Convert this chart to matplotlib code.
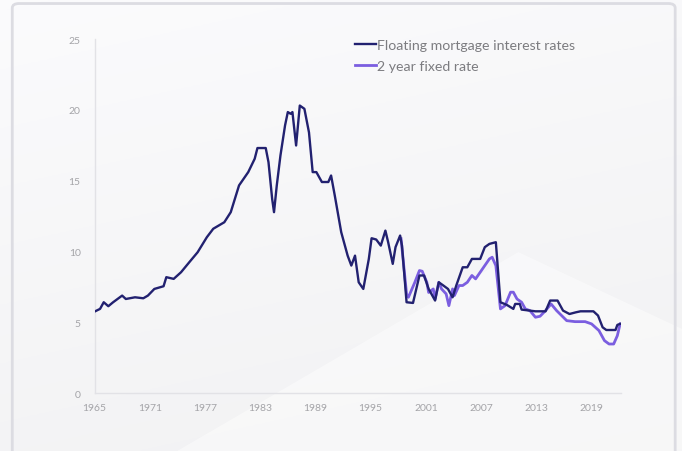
import numpy as np
import matplotlib
matplotlib.use("Agg")
from matplotlib import pyplot as plt
from matplotlib.patches import Polygon, FancyBboxPatch

plt.rcParams['font.family'] = ['Lato', 'DejaVu Sans']

# floating mortgage rate, (decimal year, percent)
float_years = [1965.0, 1965.6, 1966.0, 1966.5, 1967.0, 1968.0, 1968.4, 1969.4, 1970.3, 1970.8,
               1971.5, 1972.5, 1972.8, 1973.6, 1974.4, 1975.3, 1976.2, 1977.2, 1977.9, 1979.1,
               1979.8, 1980.7, 1981.7, 1982.4, 1982.7, 1983.6, 1983.9, 1984.3, 1984.5, 1984.8,
               1985.2, 1985.7, 1986.0, 1986.3, 1986.5, 1986.9, 1987.3, 1987.8, 1988.3, 1988.7,
               1989.1, 1989.7, 1990.4, 1990.7, 1991.1, 1991.8, 1992.5, 1992.9, 1993.3, 1993.7,
               1994.2, 1994.8, 1995.1, 1995.6, 1996.1, 1996.6, 1996.9, 1997.4, 1997.7, 1998.2,
               1998.4, 1998.9, 1999.6, 2000.3, 2000.8, 2001.3, 2002.0, 2002.4, 2002.9, 2003.4,
               2003.9, 2004.3, 2005.0, 2005.5, 2006.0, 2006.9, 2007.4, 2007.9, 2008.6, 2009.1,
               2009.8, 2010.5, 2010.7, 2011.2, 2011.4, 2012.9, 2014.0, 2014.5, 2015.3, 2015.9,
               2016.6, 2017.3, 2017.8, 2019.2, 2019.7, 2020.2, 2020.6, 2021.6, 2021.8, 2022.1]
float_rates = [5.75, 5.94, 6.41, 6.13, 6.40, 6.88, 6.64, 6.76, 6.69, 6.88,
               7.35, 7.54, 8.18, 8.06, 8.53, 9.24, 9.94, 11.0, 11.6, 12.06,
               12.77, 14.66, 15.6, 16.54, 17.3, 17.3, 16.3, 13.7, 12.77, 14.66,
               16.78, 18.9, 19.84, 19.72, 19.84, 17.48, 20.3, 20.07, 18.4, 15.6,
               15.6, 14.9, 14.9, 15.36, 13.95, 11.36, 9.7, 9.0, 9.7, 7.82,
               7.35, 9.47, 10.93, 10.84, 10.41, 11.47, 10.65, 9.12, 10.3, 11.12,
               10.41, 6.41, 6.36, 8.3, 8.3, 7.35, 6.53, 7.82, 7.59, 7.35,
               6.76, 7.59, 8.88, 8.88, 9.47, 9.47, 10.3, 10.53, 10.65, 6.41,
               6.22, 5.94, 6.29, 6.29, 5.89, 5.77, 5.77, 6.53, 6.53, 5.82,
               5.58, 5.70, 5.77, 5.77, 5.47, 4.64, 4.45, 4.45, 4.81, 4.88]

# 2 year fixed rate
fixed_years = [1998.3, 1998.9, 1999.1, 1999.8, 2000.3, 2000.6, 2001.1, 2001.3, 2001.8, 2002.0,
               2002.4, 2002.7, 2003.2, 2003.5, 2003.9, 2004.1, 2004.6, 2005.0, 2005.5, 2006.0,
               2006.4, 2006.9, 2007.4, 2007.9, 2008.2, 2008.6, 2009.1, 2009.6, 2010.2, 2010.5,
               2010.9, 2011.4, 2011.8, 2012.3, 2012.9, 2013.4, 2014.0, 2014.6, 2015.2, 2016.3,
               2017.2, 2018.3, 2019.0, 2019.8, 2020.4, 2020.9, 2021.4, 2021.8, 2022.1]
fixed_rates = [10.9, 7.0, 6.76, 7.82, 8.65, 8.6, 7.82, 7.1, 7.35, 6.64,
               7.82, 7.35, 7.0, 6.17, 7.35, 6.88, 7.59, 7.59, 7.82, 8.3,
               8.06, 8.53, 9.0, 9.47, 9.59, 9.0, 5.94, 6.17, 7.12, 7.12,
               6.64, 6.41, 5.94, 5.82, 5.35, 5.42, 5.82, 6.29, 5.82, 5.11,
               5.04, 5.04, 4.88, 4.41, 3.70, 3.46, 3.46, 4.05, 4.88]

x_ticks = [1965, 1971, 1977, 1983, 1989, 1995, 2001, 2007, 2013, 2019]
y_ticks = [0, 5, 10, 15, 20, 25]

fig = plt.figure(figsize=(6.82, 4.52), dpi=100)

# soft grey backdrop with a lighter diagonal sheen
bg = fig.add_axes([0, 0, 1, 1], zorder=-10)
bg.set_xlim(0, 1)
bg.set_ylim(0, 1)
bg.axis('off')
gx, gy = np.meshgrid(np.linspace(0, 1, 200), np.linspace(0, 1, 200))
shade = 0.955 + 0.03 * gy - 0.01 * gx
bg.imshow(np.dstack([shade, shade, shade + 0.006]).clip(0, 1), extent=[0, 1, 0, 1],
          origin='lower', aspect='auto')
bg.add_patch(Polygon([[0.26, 0.0], [0.76, 0.44], [1.0, 0.27], [1.0, 0.0]],
                     closed=True, facecolor='white', alpha=0.45, edgecolor='none'))
bg.add_patch(FancyBboxPatch((0.018, -0.05), 0.972, 1.04, boxstyle='round,pad=0,rounding_size=0.01',
                            facecolor='none', edgecolor='#dcdce2', linewidth=2.0))

ax = fig.add_axes([0.1386, 0.1283, 0.772, 0.7832])
ax.patch.set_alpha(0)
ax.plot(fixed_years, fixed_rates, color='#7b5ee0', linewidth=2.0, label='2 year fixed rate', zorder=2)
ax.plot(float_years, float_rates, color='#222170', linewidth=1.7,
        label='Floating mortgage interest rates', zorder=3)

ax.set_xlim(1965, 2022.2)
ax.set_ylim(0, 25)
ax.set_xticks(x_ticks)
ax.set_yticks(y_ticks)
for s in ['top', 'right']:
    ax.spines[s].set_visible(False)
for s in ['left', 'bottom']:
    ax.spines[s].set_color('#e2e2e6')
    ax.spines[s].set_linewidth(1.0)
ax.tick_params(length=0, labelsize=7.5, labelcolor='#a4a4a8')
ax.tick_params(axis='y', pad=10)
ax.tick_params(axis='x', pad=7)

handles, labels = ax.get_legend_handles_labels()
ax.legend(handles[::-1], labels[::-1], loc='upper left', bbox_to_anchor=(0.47, 1.035),
          frameon=False, fontsize=10.2, labelcolor='#7c7c80', handlelength=1.5,
          handletextpad=0.1, labelspacing=0.6)

fig.savefig('out.png', dpi=100)
